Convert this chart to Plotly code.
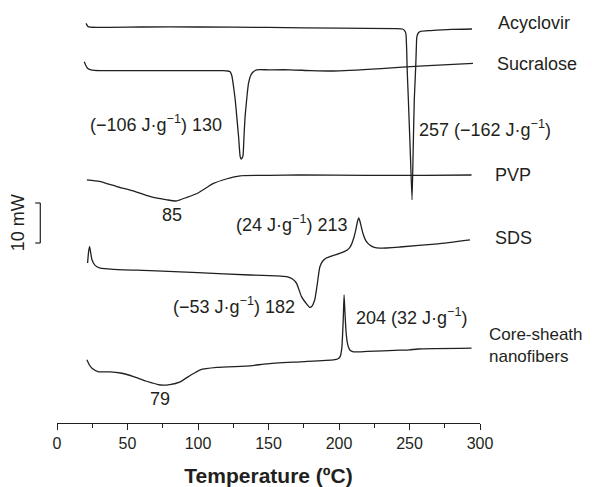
import plotly.graph_objects as go

# ---- data (temperature in °C, heat flow in mW incl. display offset) ----
acy_T = [20.6, 22, 28, 60, 100, 150, 200, 240, 245, 246.5, 247.4, 248, 248.3, 249.2, 250.5, 251.8,
         252.6, 253.4, 254.4, 254.8, 255.2, 256.2, 258, 265, 280, 294.3]
acy_Q = [99.9, 99.1, 98.9, 99.0, 99.0, 98.9, 98.7, 98.6, 98.5, 98.1, 97.4, 93.3, 89.0, 80.8, 68.3, 55.8,
         68.3, 80.8, 89.0, 93.3, 96.5, 97.5, 97.9, 98.1, 98.4, 98.5]

suc_T = [19.3, 20.3, 21.8, 24, 31, 60, 100, 118, 121, 122.8, 124, 125.2, 126.4, 127.5, 128.8, 129.9,
         130.6, 131.8, 132.6, 133.4, 134.5, 135.8, 137.5, 139.3, 141.7, 150, 165.4, 180, 195.8, 230, 260, 295]
suc_Q = [90.3, 89.5, 88.6, 88.3, 88.1, 88.1, 88.1, 88.1, 88.0, 87.8, 86.8, 84.1, 80.8, 76.6, 71.5, 66.6,
         66.0, 66.6, 71.5, 76.6, 80.8, 84.9, 87.0, 87.8, 88.3, 88.3, 88.3, 88.1, 88.0, 88.6, 89.3, 89.9]

pvp_T = [21.2, 30, 42.5, 55, 66.2, 78, 84.5, 92.1, 100, 111, 120, 129.9, 150, 172.4, 220, 260, 294]
pvp_Q = [60.8, 60.4, 59.1, 57.9, 56.6, 55.8, 55.5, 56.4, 57.5, 59.9, 61.0, 61.8, 61.9, 62.0, 61.9, 61.9, 62.0]

sds_T = [21.7, 22.4, 23.1, 23.8, 24.8, 27, 30.7, 40, 66.1, 100, 136.9, 155, 162.8, 167, 169.9,
         173.4, 176.5, 179.3, 181, 182.8, 184.5, 186.4, 188.5, 191.3, 196, 200.5, 204.1, 207, 208.8, 210.5,
         211.9, 213.2, 214, 214.8, 216.9, 219, 221.8, 225, 228.9, 243.1, 270, 292.9]
sds_Q = [40.0, 42.8, 44.1, 42.8, 40.8, 39.4, 38.7, 38.4, 38.1, 37.6, 37.0, 36.8, 36.6, 36.0, 34.9,
         31.6, 30.0, 28.9, 29.3, 30.8, 34.5, 39.0, 40.5, 41.3, 41.9, 42.4, 42.9, 43.6, 44.6, 46.3,
         48.3, 50.5, 51.3, 50.5, 47.5, 45.6, 44.5, 43.9, 43.7, 44.0, 44.8, 45.8]

cs_T = [21.2, 23, 24.8, 29.5, 37.8, 45, 54.3, 63, 73.2, 80, 87.4, 95, 101.6, 113.4, 137.1, 148.8, 172.4,
        196.1, 199, 200.8, 202, 203, 203.6, 204.2, 205, 205.8, 206.7, 208, 210.2, 220, 243.1, 250, 256, 294]
cs_Q = [15.8, 14.5, 13.7, 12.8, 12.8, 12.5, 11.6, 10.5, 9.5, 9.6, 10.3, 12.0, 13.3, 13.9, 14.3, 14.8, 15.3,
        15.8, 16.0, 16.6, 18.8, 25.8, 32.0, 27.8, 22.8, 20.3, 19.0, 18.1, 17.8, 17.9, 18.2, 18.3, 18.5, 18.7]

series_names = ["Acyclovir", "Sucralose", "PVP", "SDS", "Core-sheath<br>nanofibers"]
series_label_Q = [100.0, 89.8, 62.0, 46.3, 19.3]

peak_texts = ["(\u2212106 J\u00b7g<sup>\u22121</sup>) 130", "257 (\u2212162 J\u00b7g<sup>\u22121</sup>)", "85",
              "(24 J\u00b7g<sup>\u22121</sup>) 213", "(\u221253 J\u00b7g<sup>\u22121</sup>) 182",
              "204 (32 J\u00b7g<sup>\u22121</sup>)", "79"]
peak_T = [117.8, 256.1, 81.5, 206.6, 169.8, 211.4, 73.2]
peak_Q = [75.0, 73.7, 52.0, 49.8, 29.3, 26.6, 5.9]
peak_anchor = ["right", "left", "center", "right", "right", "left", "center"]

x_ticks = [0, 50, 100, 150, 200, 250, 300]
scale_bar_mW = [45.0, 55.0]

# label placement (paper fraction, right of the plot) and sizes
series_label_x = [1.0410, 1.0380, 1.0340, 1.0340, 1.0180]
series_label_size = [18, 18, 18, 18, 17]

FONT = "Liberation Sans, Arial, Helvetica, sans-serif"
INK = "#231f20"

fig = go.Figure()
for T, Q, n in [(acy_T, acy_Q, "Acyclovir"), (suc_T, suc_Q, "Sucralose"), (pvp_T, pvp_Q, "PVP"),
                (sds_T, sds_Q, "SDS"), (cs_T, cs_Q, "Core-sheath nanofibers")]:
    fig.add_trace(go.Scatter(x=T, y=Q, mode="lines", name=n, showlegend=False,
                             line=dict(color=INK, width=1.3, shape="spline", smoothing=0.5),
                             cliponaxis=False, hoverinfo="skip"))

for name, px, ty, fs in zip(series_names, series_label_x, series_label_Q, series_label_size):
    fig.add_annotation(xref="paper", yref="y", x=px, y=ty, text=name, showarrow=False,
                       xanchor="left", yanchor="middle", align="left", borderpad=0,
                       font=dict(family=FONT, size=fs, color=INK))

for txt, tx, ty, anc in zip(peak_texts, peak_T, peak_Q, peak_anchor):
    fig.add_annotation(x=tx, y=ty, text=txt, showarrow=False, xanchor=anc, yanchor="middle",
                       borderpad=0, font=dict(family=FONT, size=18, color=INK))

# scale bar (10 mW)
bx = -0.0395
fig.add_shape(type="line", xref="paper", yref="y", x0=bx, x1=bx, y0=scale_bar_mW[0], y1=scale_bar_mW[1],
              line=dict(color=INK, width=1.2))
for yy in scale_bar_mW:
    fig.add_shape(type="line", xref="paper", yref="y", x0=bx - 0.012, x1=bx, y0=yy, y1=yy,
                  line=dict(color=INK, width=1.2))
fig.add_annotation(xref="paper", yref="y", x=-0.0915, y=sum(scale_bar_mW) / 2, text="10 mW",
                   textangle=-90, showarrow=False, xanchor="center", yanchor="middle", borderpad=0,
                   font=dict(family=FONT, size=18, color=INK))

# page body has an 8px margin, so the figure is sized 8px smaller than the window
fig.update_layout(
    width=584, height=479,
    margin=dict(l=49, r=112, t=0, b=64),
    paper_bgcolor="white", plot_bgcolor="white",
    font=dict(family=FONT, color=INK),
    xaxis=dict(range=[0, 300], tickvals=x_ticks, ticks="outside", ticklen=6, tickwidth=1.2,
               tickcolor=INK, showline=True, linecolor=INK, linewidth=1.3, showgrid=False,
               zeroline=False, tickfont=dict(family=FONT, size=16, color=INK),
               minor=dict(dtick=25, ticks="outside", ticklen=4, tickwidth=1.2, tickcolor=INK, showgrid=False),
               title=dict(text="<b>Temperature (\u00baC)</b>", standoff=18,
                          font=dict(family=FONT, size=21, color=INK)),
               automargin=False),
    yaxis=dict(range=[0, 103.75], visible=False),
)

fig.write_html("out.html")
